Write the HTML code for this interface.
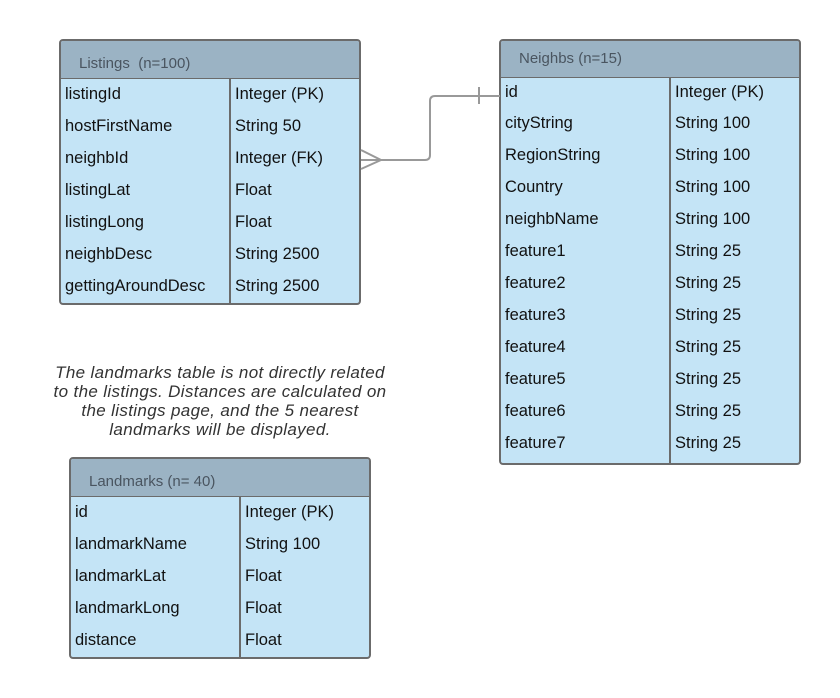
<!DOCTYPE html>
<html><head><style>
body{margin:0;width:840px;height:698px;background:#fff;position:relative;font-family:"Liberation Sans",sans-serif;overflow:hidden}
.t{position:absolute;border:2px solid #6b6b6b;border-radius:4px;background:#c4e4f6;box-sizing:border-box;overflow:hidden}
.h{background:#9bb3c4;color:#4a5560;font-size:15px;box-sizing:border-box;padding-left:18px;border-bottom:1px solid #6b6b6b}
.r{height:32px;font-size:16.5px;color:#111;position:relative;line-height:30px}
.r span{position:absolute;left:4px}
.r b{font-weight:normal;position:absolute}
.d{position:absolute;top:0;bottom:0;width:2px;background:#6b6b6b}
.note{position:absolute;left:0px;width:440px;top:363px;text-align:center;font-style:italic;font-size:17px;letter-spacing:0.35px;line-height:19px;color:#333;white-space:nowrap}
</style></head><body>
<div class="t" style="left:59px;top:39px;width:302px;height:266px">
<div class="h" style="height:38px;line-height:46px">Listings&nbsp; (n=100)</div>
<div class="d" style="left:168px;top:38px"></div>
<div class="r"><span>listingId</span><b style="left:174px">Integer (PK)</b></div>
<div class="r"><span>hostFirstName</span><b style="left:174px">String 50</b></div>
<div class="r"><span>neighbId</span><b style="left:174px">Integer (FK)</b></div>
<div class="r"><span>listingLat</span><b style="left:174px">Float</b></div>
<div class="r"><span>listingLong</span><b style="left:174px">Float</b></div>
<div class="r"><span>neighbDesc</span><b style="left:174px">String 2500</b></div>
<div class="r"><span>gettingAroundDesc</span><b style="left:174px">String 2500</b></div>
</div>
<div class="t" style="left:499px;top:39px;width:302px;height:426px">
<div class="h" style="height:37px;line-height:36px">Neighbs (n=15)</div>
<div class="d" style="left:168px;top:37px"></div>
<div class="r" style="height:30px;line-height:28px"><span>id</span><b style="left:174px">Integer (PK)</b></div>
<div class="r"><span>cityString</span><b style="left:174px">String 100</b></div>
<div class="r"><span>RegionString</span><b style="left:174px">String 100</b></div>
<div class="r"><span>Country</span><b style="left:174px">String 100</b></div>
<div class="r"><span>neighbName</span><b style="left:174px">String 100</b></div>
<div class="r"><span>feature1</span><b style="left:174px">String 25</b></div>
<div class="r"><span>feature2</span><b style="left:174px">String 25</b></div>
<div class="r"><span>feature3</span><b style="left:174px">String 25</b></div>
<div class="r"><span>feature4</span><b style="left:174px">String 25</b></div>
<div class="r"><span>feature5</span><b style="left:174px">String 25</b></div>
<div class="r"><span>feature6</span><b style="left:174px">String 25</b></div>
<div class="r"><span>feature7</span><b style="left:174px">String 25</b></div>
</div>
<div class="t" style="left:69px;top:457px;width:302px;height:202px">
<div class="h" style="height:38px;line-height:46px">Landmarks (n= 40)</div>
<div class="d" style="left:168px;top:38px"></div>
<div class="r"><span>id</span><b style="left:174px">Integer (PK)</b></div>
<div class="r"><span>landmarkName</span><b style="left:174px">String 100</b></div>
<div class="r"><span>landmarkLat</span><b style="left:174px">Float</b></div>
<div class="r"><span>landmarkLong</span><b style="left:174px">Float</b></div>
<div class="r"><span>distance</span><b style="left:174px">Float</b></div>
</div>
<div class="note">The landmarks table is not directly related<br>to the listings. Distances are calculated on<br>the listings page, and the 5 nearest<br>landmarks will be displayed.</div>
<svg style="position:absolute;left:0;top:0" width="840" height="698">
<g stroke="#999" stroke-width="2" fill="none">
<path d="M361 160 H425 Q430 160 430 155 V101 Q430 96 435 96 H500"/>
<path d="M361 150 L381 160 L361 169"/>
<path d="M479 87 V104"/>
</g>
</svg>
</body></html>
